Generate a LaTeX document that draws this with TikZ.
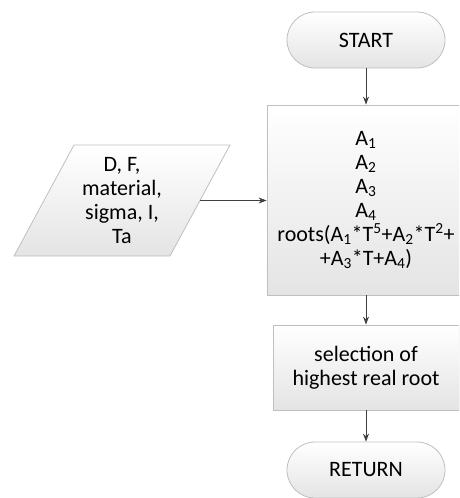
\documentclass[tikz,border=0pt]{standalone}
\usepackage{fontspec}
\setmainfont{Carlito}
\usetikzlibrary{arrows.meta}
\definecolor{edge}{HTML}{BFBFBF}
\definecolor{wire}{HTML}{404040}
\definecolor{shadebot}{HTML}{E4E4E4}
\tikzset{
  box/.style={draw=edge, line width=0.8pt, top color=white, bottom color=shadebot},
  label/.style={align=center, font=\fontsize{22}{24}\selectfont, inner sep=0pt, text=black},
  term/.style={box, label, rounded corners=28pt, minimum width=158pt, minimum height=56pt},
  proc/.style={box, label, rectangle},
  flow/.style={draw=wire, line width=0.9pt, -{Stealth[length=8pt,width=6pt]}}
}
\begin{document}
\begin{tikzpicture}[x=1pt,y=-1pt]
\useasboundingbox (0,0) rectangle (459,498);
\clip (0,0) rectangle (459,498);

% terminals and process boxes
\node[term] (start) at (366,40) {START};
\node[proc, minimum width=198pt, minimum height=190pt] (calc) at (366,200)
  {A\textsubscript{1}\\A\textsubscript{2}\\A\textsubscript{3}\\A\textsubscript{4}\\
   roots(A\textsubscript{1}*T\textsuperscript{5}+A\textsubscript{2}*T\textsuperscript{2}+\\
   +A\textsubscript{3}*T+A\textsubscript{4})};
\node[proc, minimum width=186pt, minimum height=85pt] (sel) at (366,367.5)
  {selection of\\highest real root};
\node[term] (ret) at (366,470) {RETURN};

% input parallelogram
\path[box] (74,145) -- (230,145) -- (170,256) -- (14,256) -- cycle;
\node[label] (inp) at (122,200.5) {D, F,\\material,\\sigma, I,\\Ta};
\coordinate (inpR) at (200,200.5);

% connectors
\draw[flow] (start) -- (calc);
\draw[flow] (inpR) -- (calc.west |- inpR);
\draw[flow] (calc) -- (sel);
\draw[flow] (sel) -- (ret);
\end{tikzpicture}
\end{document}
